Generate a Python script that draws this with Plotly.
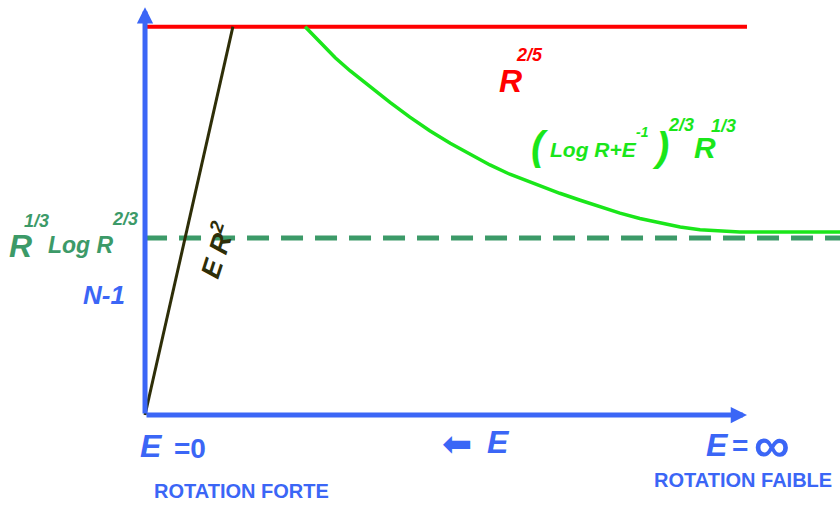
import plotly.graph_objects as go

# Chart units: x goes from E = 0 (0) to E = infinity (100),
# y is N-1 with the R^{2/5} plateau at 100.
x_axis_end = 100.0
y_axis_end = 105.0
x_view = [-24.09, 115.45]
y_view = [-23.95, 106.87]

upper_level = 100.0      # R^{2/5}
lower_level = 45.6       # R^{1/3} Log R^{2/3}
upper_x = [0.0, 100.0]
lower_x = [0.0, 115.45]

# strong rotation branch: E R^2
steep_x = [0.0, 14.6]
steep_y = [0.0, 100.0]

# weak rotation branch: (Log R + E^-1)^{2/3} R^{1/3}
curve_x = [26.6, 28.2, 29.9, 31.6, 34.1, 37.4, 40.7, 44.0, 47.3, 50.7, 54.0,
           57.3, 60.6, 65.6, 68.9, 72.3, 75.6, 78.9, 82.2, 85.6, 88.9, 92.2,
           95.5, 98.8, 115.45]
curve_y = [100.0, 97.4, 94.6, 92.0, 88.6, 84.5, 80.5, 76.7, 73.2, 70.0, 67.1,
           64.4, 62.0, 59.0, 57.1, 55.3, 53.6, 52.0, 50.6, 49.4, 48.4, 47.7,
           47.3, 47.1, 47.1]

BLUE = "#3B66F6"
RED = "#FF0000"
DARK = "#2E2E08"
LIME = "#1AE61A"
SEA = "#3C9A68"
FONT = "Liberation Sans, Arial, sans-serif"
SYMBOL_FONT = "DejaVu Sans, Liberation Sans, sans-serif"

fig = go.Figure()
fig.add_trace(go.Scatter(x=lower_x, y=[lower_level] * len(lower_x), mode="lines",
                         line=dict(color=SEA, width=5, dash="22px,12px")))
fig.add_trace(go.Scatter(x=upper_x, y=[upper_level] * len(upper_x), mode="lines",
                         line=dict(color=RED, width=4)))
fig.add_trace(go.Scatter(x=steep_x, y=steep_y, mode="lines",
                         line=dict(color=DARK, width=3)))
fig.add_trace(go.Scatter(x=curve_x, y=curve_y, mode="lines",
                         line=dict(color=LIME, width=3.5)))

# axes with arrow heads
for tip in [(0.0, y_axis_end), (x_axis_end, 0.0)]:
    fig.add_annotation(x=tip[0], y=tip[1], ax=0.0, ay=0.0, xref="x", yref="y",
                       axref="x", ayref="y", text="", showarrow=True,
                       arrowhead=2, arrowwidth=5, arrowsize=0.65,
                       arrowcolor=BLUE, standoff=0)

# (text, x, y, size, color, italic, bold, angle, family)
labels = [
    ("R", -20.76, 43.52, 32, SEA, True, True, 0, FONT),
    ("1/3", -18.0, 50.0, 18, SEA, True, True, 0, FONT),
    ("Log R", -10.63, 43.78, 23, SEA, True, True, 0, FONT),
    ("2/3", -3.32, 50.48, 18, SEA, True, True, 0, FONT),
    ("N-1", -6.81, 30.90, 26, BLUE, True, True, 0, FONT),
    ("E R<sup>2</sup>", 11.79, 42.49, 27, DARK, True, True, -72, FONT),
    ("R", 60.63, 86.02, 32, RED, True, True, 0, FONT),
    ("2/5", 63.95, 92.71, 18, RED, True, True, 0, FONT),
    ("(", 65.61, 69.28, 40, LIME, True, True, 0, FONT),
    ("Log R+E", 74.58, 68.25, 21, LIME, True, True, 0, FONT),
    ("-1", 82.56, 72.88, 14, LIME, True, True, 0, FONT),
    (")", 85.6, 69.02, 40, LIME, True, True, 0, FONT),
    ("2/3", 89.1, 74.68, 18, LIME, True, True, 0, FONT),
    ("R", 93.0, 68.76, 30, LIME, True, True, 0, FONT),
    ("1/3", 96.1, 74.43, 18, LIME, True, True, 0, FONT),
    ("E", 1.0, -7.98, 32, BLUE, True, True, 0, FONT),
    ("=0", 7.48, -8.50, 28, BLUE, False, True, 0, FONT),
    ("ROTATION FORTE", 15.95, -19.57, 20, BLUE, False, True, 0, FONT),
    ("\u2b05", 51.83, -7.21, 36, BLUE, False, False, 0, SYMBOL_FONT),
    ("E", 58.80, -6.95, 32, BLUE, True, True, 0, FONT),
    ("E", 95.02, -7.73, 32, BLUE, True, True, 0, FONT),
    ("=", 98.84, -7.73, 28, BLUE, False, True, 0, FONT),
    ("\u221e", 104.15, -7.73, 50, BLUE, False, True, 0, FONT),
    ("ROTATION FAIBLE", 99.34, -16.74, 20, BLUE, False, True, 0, FONT),
]
for text, x, y, size, color, italic, bold, angle, family in labels:
    fig.add_annotation(x=x, y=y, xref="x", yref="y", text=text, showarrow=False,
                       xanchor="center", yanchor="middle", textangle=angle,
                       font=dict(family=family, size=size, color=color,
                                 style="italic" if italic else "normal",
                                 weight="bold" if bold else "normal"))

fig.update_layout(
    width=840, height=508, margin=dict(l=0, r=0, t=0, b=0),
    paper_bgcolor="white", plot_bgcolor="white", showlegend=False,
    xaxis=dict(range=x_view, visible=False, fixedrange=True),
    yaxis=dict(range=y_view, visible=False, fixedrange=True),
)
fig.write_html("out.html")
